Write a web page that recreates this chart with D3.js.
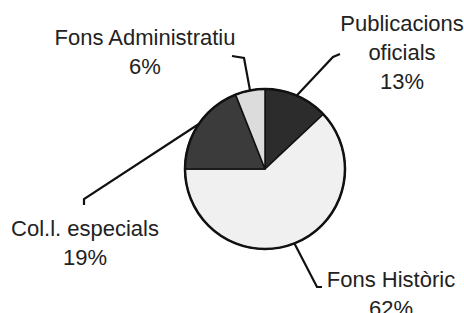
<!DOCTYPE html>
<html>
<head>
<meta charset="utf-8">
<script src="https://cdn.jsdelivr.net/npm/d3@7"></script>
<style>
  body { margin: 0; background: #fff; }
  text { font-family: "Liberation Sans", Arial, sans-serif; font-size: 22px; fill: #222; }
</style>
</head>
<body>
<div id="chart"></div>
<script>
// data
const categories = ['Publicacions oficials', 'Fons Històric', 'Col.l. especials', 'Fons Administratiu']
const values = [13, 62, 19, 6]
const labelLines = [
    ['Publicacions', 'oficials', '13%'],
    ['Fons Històric', '62%'],
    ['Col.l. especials', '19%'],
    ['Fons Administratiu', '6%'],
]

const colors = ['#2c2c2c', '#f0f0f0', '#3b3b3b', '#dcdcdc']

// label layout: elbow of leader, end of tick, text centre x, first baseline
const layout = [
    { elbow: [333, 57], tick: [340, 54], tx: 402, ty: 31 },
    { elbow: [317, 287], tick: [322, 287], tx: 391, ty: 287 },
    { elbow: [84, 199], tick: [84, 205], tx: 85, ty: 236 },
    { elbow: [244, 58], tick: [232, 56], tx: 145, ty: 45 },
]

const w = 464
const h = 313
const cx = 265
const cy = 169
const r = 80
const lineGap = 29

const svg = d3.select('#chart').append('svg').attr('width', w).attr('height', h)
const g = svg.append('g').attr('transform', `translate(${cx},${cy})`)

const pie = d3.pie().sort(null).value(d => d)
const arcs = pie(values)
const arc = d3.arc().innerRadius(0).outerRadius(r)

g.selectAll('path')
    .data(arcs)
    .enter()
    .append('path')
    .attr('d', arc)
    .attr('fill', (d, i) => colors[i])
    .attr('stroke', '#111')
    .attr('stroke-width', 1.5)

// heavier outer ring like the scan
g.append('circle').attr('r', r).attr('fill', 'none').attr('stroke', '#111').attr('stroke-width', 2.5)

// leader lines
svg.selectAll('polyline')
    .data(arcs)
    .enter()
    .append('polyline')
    .attr('points', (d, i) => {
        const a = (d.startAngle + d.endAngle) / 2
        const p0 = [cx + r * Math.sin(a), cy - r * Math.cos(a)]
        return [p0, layout[i].elbow, layout[i].tick].map(p => p.join(',')).join(' ')
    })
    .attr('fill', 'none')
    .attr('stroke', '#111')
    .attr('stroke-width', 2.2)

// labels
const labels = svg.selectAll('.lbl')
    .data(labelLines)
    .enter()
    .append('text')
    .attr('class', 'lbl')
    .attr('text-anchor', 'middle')
    .attr('x', (d, i) => layout[i].tx)
    .attr('y', (d, i) => layout[i].ty)

labels.selectAll('tspan')
    .data(d => d)
    .enter()
    .append('tspan')
    .attr('x', function () { return d3.select(this.parentNode).attr('x') })
    .attr('dy', (d, j) => j === 0 ? 0 : lineGap)
    .text(d => d)
</script>
</body>
</html>
